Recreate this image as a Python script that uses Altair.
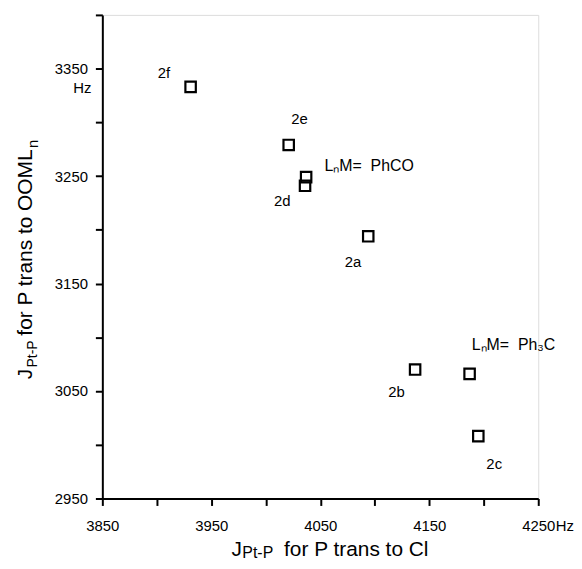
import altair as alt
import pandas as pd

# --- data ---
x_vals = [3931, 4021, 4037, 4036, 4094, 4137, 4187, 4195]
y_vals = [3333, 3279, 3249, 3241, 3194, 3070, 3066, 3008]

# compound labels (centered)
lab_text = ["2f", "2e", "2d", "2a", "2b", "2c"]
lab_x = [3906.5, 4031, 4015, 4080, 4120, 4209.6]
lab_y = [3345.8, 3302.7, 3227, 3170, 3048.6, 2982.3]

# group annotations (left aligned)
grp_text = ["LₙM=\u00a0\u00a0PhCO", "LₙM=\u00a0\u00a0Ph₃C"]
grp_x = [4053.8, 4189]
grp_y = [3259.5, 3092.6]

# unit labels
unit_text = ["Hz", "Hz"]
unit_x = [3840, 4266]
unit_y = [3331.6, 2924]
unit_align = ["right", "left"]

x_ticks = list(range(3850, 4251, 50))
y_ticks = list(range(2950, 3401, 50))

FONT = "Liberation Sans"

pts = pd.DataFrame({"x": x_vals, "y": y_vals})
labs = pd.DataFrame({"x": lab_x, "y": lab_y, "t": lab_text})
grps = pd.DataFrame({"x": grp_x, "y": grp_y, "t": grp_text})
units = pd.DataFrame({"x": unit_x, "y": unit_y, "t": unit_text, "a": unit_align})

xscale = alt.Scale(domain=[3850, 4250], nice=False, zero=False)
yscale = alt.Scale(domain=[2950, 3400], nice=False, zero=False)

xaxis = alt.Axis(values=x_ticks, format="d", title=None, grid=False,
                 labelExpr="(datum.value - 3850) % 100 == 0 ? datum.label : ''",
                 tickSize=7, tickWidth=2, domainWidth=2, domainColor="black",
                 tickColor="black", labelColor="black", labelFont=FONT,
                 labelFontSize=15, labelPadding=13, labelFlush=False)
yaxis = alt.Axis(values=y_ticks, format="d", title=None, grid=False,
                 labelExpr="(datum.value - 2950) % 100 == 0 ? datum.label : ''",
                 tickSize=7, tickWidth=2, domainWidth=2, domainColor="black",
                 tickColor="black", labelColor="black", labelFont=FONT,
                 labelFontSize=15, labelPadding=8, labelFlush=False)

points = alt.Chart(pts).mark_point(shape="square", size=110, filled=False,
                                   color="black", strokeWidth=2.2, opacity=1).encode(
    x=alt.X("x:Q", scale=xscale, axis=xaxis),
    y=alt.Y("y:Q", scale=yscale, axis=yaxis),
)

def txt(df, align, size=15):
    return alt.Chart(df).mark_text(font=FONT, fontSize=size, color="black",
                                   align=align, baseline="middle").encode(
        x=alt.X("x:Q", scale=xscale), y=alt.Y("y:Q", scale=yscale), text="t:N")

labels = txt(labs, "center")
groups = txt(grps, "left", 16)
unit_r = txt(units[units.a == "right"], "right")
unit_l = txt(units[units.a == "left"], "left")

def title_piece(s, x, y, size, angle=0):
    return alt.Chart(pd.DataFrame({"t": [s]})).mark_text(
        font=FONT, fontSize=size, color="black", align="left",
        baseline="alphabetic", angle=angle).encode(
        x=alt.value(x), y=alt.value(y), text="t:N")

# x-axis title: J_{Pt-P} for P trans to Cl
xt = [
    title_piece("J", 130, 545, 21),
    title_piece("Pt-P", 141, 547, 16),
    title_piece("for P trans to Cl", 183, 545, 21),
]
# y-axis title: J_{Pt-P} for P trans to OOML_n
yt = [
    title_piece("J", -71, 367, 21, 270),
    title_piece("Pt-P", -66, 355, 14, 270),
    title_piece("for P trans to OOML", -71, 323, 21, 270),
    title_piece("n", -65, 134, 15, 270),
]

chart = alt.layer(points, labels, groups, unit_r, unit_l, *xt, *yt).properties(
    width=439, height=487,
    padding={"left": 95, "top": 5, "right": 36, "bottom": 61},
    autosize=alt.AutoSizeParams(type="none"),
).configure_view(stroke=None).configure(background="white")

chart.save("out.html", embed_options={"renderer": "svg", "actions": False})
